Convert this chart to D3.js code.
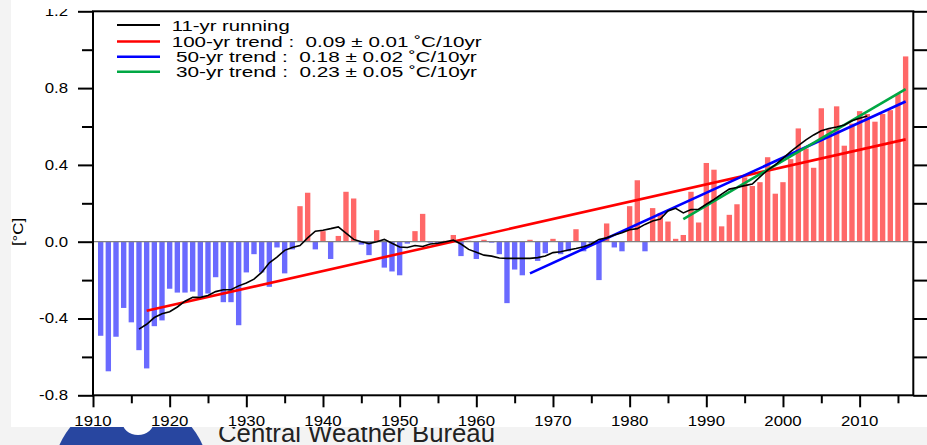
<!DOCTYPE html>
<html>
<head>
<meta charset="utf-8">
<title>Temperature anomaly</title>
<script src="https://d3js.org/d3.v7.min.js"></script>
<style>
  * { margin:0; padding:0; }
  body { background:#f3f3f3; width:927px; height:445px; overflow:hidden;
         font-family:"Liberation Sans", Arial, sans-serif; }
  svg { display:block; }
  .legend text { white-space:pre; }
</style>
</head>
<body>
<div id="chart"></div>
<script>
// yearly anomalies, 1911 .. 2016
const barStart = 1911;
const anomalies = [
  -0.49, -0.675, -0.495, -0.345, -0.42, -0.565, -0.66, -0.44, -0.41, -0.245,
  -0.265, -0.265, -0.26, -0.285, -0.27, -0.185, -0.315, -0.315, -0.435, -0.16,
  -0.065, -0.16, -0.235, -0.03, -0.165, -0.04, 0.185, 0.255, -0.04, 0.055,
  -0.09, 0.03, 0.26, 0.225, -0.015, -0.07, 0.06, -0.135, -0.155, -0.175,
  -0.01, 0.055, 0.145, -0.005, -0.01, 0.005, 0.035, -0.075, 0.005, -0.09,
  0.01, -0.005, -0.065, -0.32, -0.145, -0.175, 0.01, -0.1, -0.06, 0.015,
  -0.065, -0.05, 0.065, -0.05, -0.01, -0.2, 0.095, -0.03, -0.05, 0.185,
  0.32, -0.05, 0.175, 0.15, 0.105, 0.015, 0.035, 0.26, 0.10, 0.41,
  0.375, 0.08, 0.14, 0.195, 0.335, 0.29, 0.31, 0.44, 0.25, 0.31,
  0.43, 0.59, 0.485, 0.385, 0.695, 0.585, 0.705, 0.5, 0.615, 0.68,
  0.665, 0.625, 0.665, 0.685, 0.77, 0.965
];

// 11-yr running mean, 1916 .. 2011
const runStart = 1916;
const running = [
  -0.455, -0.43, -0.395, -0.375, -0.365, -0.34, -0.31, -0.29, -0.29, -0.28,
  -0.26, -0.25, -0.25, -0.23, -0.215, -0.195, -0.16, -0.11, -0.08, -0.045,
  -0.03, -0.02, 0.02, 0.055, 0.06, 0.068, 0.077, 0.045, 0.012, 0.0,
  -0.01, 0.0, 0.012, -0.008, -0.028, -0.03, -0.02, -0.025, -0.012, -0.008,
  0.0, 0.008, -0.012, -0.04, -0.055, -0.07, -0.075, -0.085, -0.087, -0.087,
  -0.087, -0.087, -0.083, -0.075, -0.057, -0.052, -0.043, -0.035, -0.026, -0.012,
  0.012, 0.02, 0.035, 0.047, 0.062, 0.068, 0.09, 0.108, 0.118, 0.16,
  0.174, 0.15, 0.167, 0.169, 0.195, 0.22, 0.248, 0.274, 0.282, 0.292,
  0.30, 0.338, 0.373, 0.40, 0.434, 0.469, 0.50, 0.53, 0.556, 0.578,
  0.59, 0.597, 0.608, 0.63, 0.643, 0.655
];

// trend lines: start / end year and value
const trendYears = [[1917, 2016], [1967, 2016], [1987, 2016]];
const trendValues = [[-0.36, 0.533], [-0.165, 0.73], [0.118, 0.795]];
const trendColors = ["#ff0000", "#0000ff", "#00a844"];

const legendLabels = [
  "11-yr running",
  "100-yr trend :  0.09 \u00b1 0.01 \u02daC/10yr",
  "50-yr trend :  0.18 \u00b1 0.02 \u02daC/10yr",
  "30-yr trend :  0.23 \u00b1 0.05 \u02daC/10yr"
];
const legendColors = ["#000000", "#ff0000", "#0000ff", "#00a844"];

const yMajor = [-0.8, -0.4, 0, 0.4, 0.8, 1.2];
const yLabels = ["-0.8", "-0.4", "0.0", "0.4", "0.8", "1.2"];
const yMinor = [-0.6, -0.2, 0.2, 0.6, 1.0];
const xMajor = [1910, 1920, 1930, 1940, 1950, 1960, 1970, 1980, 1990, 2000, 2010];
const xMinor = [1915, 1925, 1935, 1945, 1955, 1965, 1975, 1985, 1995, 2005, 2015];

const width = 927, height = 445;
const x = d3.scaleLinear().domain([1910, 2017]).range([93, 913.3]);
const y = d3.scaleLinear().domain([-0.8, 1.2]).range([395.3, 11.3]);

const svg = d3.select("#chart").append("svg")
  .attr("width", width).attr("height", height);

// bottom strip: logo + agency name (panel covers their tops)
svg.append("circle").attr("cx", 131).attr("cy", 476).attr("r", 78)
  .attr("fill", "#2846a0");
svg.append("ellipse").attr("cx", 138).attr("cy", 421).attr("rx", 16).attr("ry", 14)
  .attr("fill", "#ffffff");
svg.append("text").text("Central Weather Bureau")
  .attr("x", 218).attr("y", 442)
  .attr("font-size", 26).attr("fill", "#222")
  .attr("textLength", 277).attr("lengthAdjust", "spacingAndGlyphs");

// white panel
svg.append("rect").attr("x", 11).attr("y", 0).attr("width", 916).attr("height", 427)
  .attr("fill", "#ffffff");

// bars
const bw = (x(1) - x(0)) * 0.7;
svg.append("g").selectAll("rect")
  .data(anomalies)
  .join("rect")
  .attr("x", (d, i) => x(barStart + i) - bw / 2)
  .attr("width", bw)
  .attr("y", d => d > 0 ? y(d) : y(0))
  .attr("height", d => Math.abs(y(d) - y(0)))
  .attr("fill", d => d > 0 ? "#ff6868" : "#6a6aff");

// zero line
svg.append("line")
  .attr("x1", x(1910)).attr("x2", x(2017))
  .attr("y1", y(0)).attr("y2", y(0))
  .attr("stroke", "#808080").attr("stroke-width", 1.2);

// trend lines
trendYears.forEach((yrs, k) => {
  svg.append("line")
    .attr("x1", x(yrs[0])).attr("y1", y(trendValues[k][0]))
    .attr("x2", x(yrs[1])).attr("y2", y(trendValues[k][1]))
    .attr("stroke", trendColors[k]).attr("stroke-width", 2.6);
});

// running mean
const line = d3.line()
  .x((d, i) => x(runStart + i))
  .y(d => y(d));
svg.append("path").datum(running)
  .attr("d", line)
  .attr("fill", "none").attr("stroke", "#000").attr("stroke-width", 1.6);

// axes
function styleAxis(g) {
  g.select(".domain").remove();
  g.selectAll("line").attr("stroke", "#000").attr("stroke-width", 2);
}
svg.append("g").attr("transform", `translate(${x(1910)},0)`)
  .call(d3.axisLeft(y).tickValues(yMajor).tickSize(15).tickFormat(""))
  .call(styleAxis);
svg.append("g").attr("transform", `translate(${x(1910)},0)`)
  .call(d3.axisLeft(y).tickValues(yMinor).tickSize(11).tickFormat(""))
  .call(styleAxis);
svg.append("g").attr("transform", `translate(${x(2017)},0)`)
  .call(d3.axisRight(y).tickValues(yMajor.concat(yMinor)).tickSize(15).tickFormat(""))
  .call(styleAxis);
svg.append("g").attr("transform", `translate(0,${y(-0.8)})`)
  .call(d3.axisBottom(x).tickValues(xMajor).tickSize(12).tickFormat(""))
  .call(styleAxis);
svg.append("g").attr("transform", `translate(0,${y(-0.8)})`)
  .call(d3.axisBottom(x).tickValues(xMinor).tickSize(8).tickFormat(""))
  .call(styleAxis);

// frame
svg.append("rect")
  .attr("x", x(1910)).attr("y", y(1.2))
  .attr("width", x(2017) - x(1910)).attr("height", y(-0.8) - y(1.2))
  .attr("fill", "none").attr("stroke", "#000").attr("stroke-width", 2);

// tick labels
svg.append("g").selectAll("text")
  .data(yMajor)
  .join("text")
  .attr("transform", d => `translate(68,${y(d)}) scale(1.2,1)`)
  .attr("text-anchor", "end").attr("dominant-baseline", "central")
  .attr("font-size", 14).attr("fill", "#000")
  .text((d, i) => yLabels[i]);
// top label is cut off in the source
svg.append("rect").attr("x", 30).attr("y", 0).attr("width", 50).attr("height", 9)
  .attr("fill", "#ffffff");

svg.append("g").selectAll("text")
  .data(xMajor)
  .join("text")
  .attr("transform", d => `translate(${x(d)},421.5) scale(1.2,1)`)
  .attr("text-anchor", "middle").attr("dominant-baseline", "central")
  .attr("font-size", 14).attr("fill", "#000")
  .text(d => d);

// axis title
svg.append("text")
  .attr("transform", "translate(18,232) rotate(-90) scale(1.2,1)")
  .attr("text-anchor", "middle").attr("dominant-baseline", "central")
  .attr("font-size", 14)
  .text("[\u00b0C]");

// legend
const legendY = [25, 41.5, 56.7, 71.7];
const legendX = [171.7, 171.7, 176, 176];
const legendW = [118, 310, 300.7, 301];
const lg = svg.append("g").attr("class", "legend");
legendLabels.forEach((t, k) => {
  lg.append("line")
    .attr("x1", 117).attr("x2", 160)
    .attr("y1", legendY[k]).attr("y2", legendY[k])
    .attr("stroke", legendColors[k]).attr("stroke-width", k === 0 ? 1.8 : 2.6);
  lg.append("text")
    .attr("x", legendX[k]).attr("y", legendY[k])
    .attr("dominant-baseline", "central")
    .attr("font-size", 15)
    .attr("textLength", legendW[k]).attr("lengthAdjust", "spacingAndGlyphs")
    .text(t);
});
</script>
</body>
</html>
